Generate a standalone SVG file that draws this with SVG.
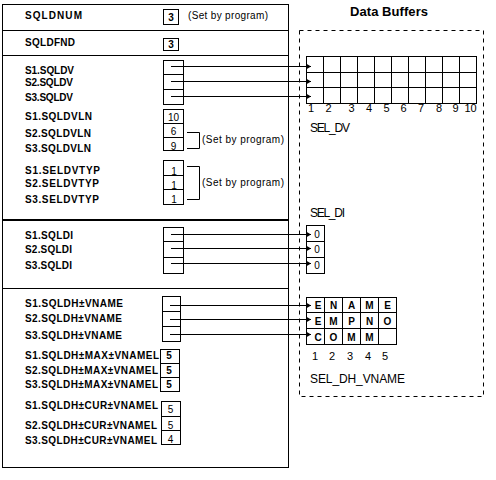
<svg xmlns="http://www.w3.org/2000/svg" width="496" height="480" viewBox="0 0 496 480">
<style>
.ln{stroke:#000;stroke-width:1;fill:none}
.lbl{font-family:"Liberation Sans",Arial,sans-serif;font-weight:bold;font-size:10px;fill:#000}
.val{font-family:"Liberation Sans",Arial,sans-serif;font-size:10px;fill:#000;text-anchor:middle}
.valb{font-family:"Liberation Sans",Arial,sans-serif;font-size:10px;font-weight:bold;fill:#000;text-anchor:middle}
.note{font-family:"Liberation Sans",Arial,sans-serif;font-size:10px;fill:#000}
.name{font-family:"Liberation Sans",Arial,sans-serif;font-size:12px;fill:#000}
.num{font-family:"Liberation Sans",Arial,sans-serif;font-size:11px;fill:#000;text-anchor:middle}
.title{font-family:"Liberation Sans",Arial,sans-serif;font-size:13px;font-weight:bold;fill:#000}
</style>
<defs>
<marker id="ah" markerUnits="userSpaceOnUse" markerWidth="5" markerHeight="6" refX="5" refY="3" orient="auto">
<path d="M0,0 L5,3 L0,6 z" fill="#000"/>
</marker>
</defs>

<g id="sqlda">
<rect class="ln" x="2.5" y="4.5" width="286" height="463"/>
<line class="ln" x1="2" y1="30.5" x2="289" y2="30.5"/>
<line class="ln" x1="2" y1="55.5" x2="289" y2="55.5"/>
<line stroke="#000" stroke-width="2" x1="2" y1="220" x2="289" y2="220"/>
<line class="ln" x1="2" y1="288.5" x2="289" y2="288.5"/>
</g>

<g id="sqldnum">
<text class="lbl" x="25" y="18.5" textLength="57" lengthAdjust="spacing">SQLDNUM</text>
<rect class="ln" x="163.5" y="9.5" width="15" height="15"/>
<text class="valb" x="171" y="20.5">3</text>
<text class="note" x="188" y="19" textLength="80" lengthAdjust="spacing">(Set by program)</text>
</g>

<g id="sqldfnd">
<text class="lbl" x="25" y="46" textLength="50" lengthAdjust="spacing">SQLDFND</text>
<rect class="ln" x="163.5" y="38.5" width="15" height="12"/>
<text class="valb" x="171" y="48">3</text>
</g>

<g id="sqldv">
<text class="lbl" x="25" y="73.5" textLength="49" lengthAdjust="spacing">S1.SQLDV</text>
<text class="lbl" x="25" y="85.5" textLength="48" lengthAdjust="spacing">S2.SQLDV</text>
<text class="lbl" x="25" y="100.5" textLength="48" lengthAdjust="spacing">S3.SQLDV</text>
<rect class="ln" x="163.5" y="60.5" width="20" height="44"/>
<line class="ln" x1="163.5" y1="74.5" x2="183.5" y2="74.5"/>
<line class="ln" x1="163.5" y1="89.5" x2="183.5" y2="89.5"/>
</g>

<g id="sqldvln">
<text class="lbl" x="25" y="120" textLength="67" lengthAdjust="spacing">S1.SQLDVLN</text>
<text class="lbl" x="25" y="136.5" textLength="66" lengthAdjust="spacing">S2.SQLDVLN</text>
<text class="lbl" x="25" y="151.5" textLength="66" lengthAdjust="spacing">S3.SQLDVLN</text>
<rect class="ln" x="163.5" y="109.5" width="20" height="41"/>
<line class="ln" x1="163.5" y1="123.5" x2="183.5" y2="123.5"/>
<line class="ln" x1="163.5" y1="137.5" x2="183.5" y2="137.5"/>
<text class="val" x="173.5" y="120.5">10</text>
<text class="val" x="173.5" y="135">6</text>
<text class="val" x="173.5" y="149.5">9</text>
<path class="ln" d="M187,132.5 H199.5 V148.5 H187"/>
<text class="note" x="202" y="142.5" textLength="82" lengthAdjust="spacing">(Set by program)</text>
</g>

<g id="seldvtyp">
<text class="lbl" x="25" y="173.5" textLength="75" lengthAdjust="spacing">S1.SELDVTYP</text>
<text class="lbl" x="25" y="186.5" textLength="74" lengthAdjust="spacing">S2.SELDVTYP</text>
<text class="lbl" x="25" y="202.5" textLength="74" lengthAdjust="spacing">S3.SELDVTYP</text>
<rect class="ln" x="163.5" y="160.5" width="20" height="44"/>
<line class="ln" x1="163.5" y1="175.5" x2="183.5" y2="175.5"/>
<line class="ln" x1="163.5" y1="189.5" x2="183.5" y2="189.5"/>
<text class="val" x="174" y="174.5">1</text>
<text class="val" x="174" y="189">1</text>
<text class="val" x="174" y="203">1</text>
<path class="ln" d="M187,166.5 H199.5 V199.5 H187"/>
<text class="note" x="202" y="185.5" textLength="82" lengthAdjust="spacing">(Set by program)</text>
</g>

<g id="sqldi">
<text class="lbl" x="25" y="239" textLength="48" lengthAdjust="spacing">S1.SQLDI</text>
<text class="lbl" x="25" y="252.5" textLength="47" lengthAdjust="spacing">S2.SQLDI</text>
<text class="lbl" x="25" y="268.5" textLength="47" lengthAdjust="spacing">S3.SQLDI</text>
<rect class="ln" x="163.5" y="227.5" width="20" height="46"/>
<line class="ln" x1="163.5" y1="241.5" x2="183.5" y2="241.5"/>
<line class="ln" x1="163.5" y1="257.5" x2="183.5" y2="257.5"/>
</g>

<g id="sqldh_vname">
<text class="lbl" x="25" y="306.5" textLength="98" lengthAdjust="spacing">S1.SQLDH±VNAME</text>
<text class="lbl" x="25" y="321.5" textLength="97" lengthAdjust="spacing">S2.SQLDH±VNAME</text>
<text class="lbl" x="25" y="338.5" textLength="97" lengthAdjust="spacing">S3.SQLDH±VNAME</text>
<rect class="ln" x="162.5" y="296.5" width="18" height="45"/>
<line class="ln" x1="162.5" y1="311.5" x2="180.5" y2="311.5"/>
<line class="ln" x1="162.5" y1="326.5" x2="180.5" y2="326.5"/>
</g>

<g id="sqldh_max_vnamel">
<text class="lbl" x="25" y="358.5" textLength="134" lengthAdjust="spacing">S1.SQLDH±MAX±VNAMEL</text>
<text class="lbl" x="25" y="373.5" textLength="133" lengthAdjust="spacing">S2.SQLDH±MAX±VNAMEL</text>
<text class="lbl" x="25" y="387.5" textLength="133" lengthAdjust="spacing">S3.SQLDH±MAX±VNAMEL</text>
<rect class="ln" x="160.5" y="349.5" width="19" height="42"/>
<line class="ln" x1="160.5" y1="363.5" x2="179.5" y2="363.5"/>
<line class="ln" x1="160.5" y1="377.5" x2="179.5" y2="377.5"/>
<text class="valb" x="169" y="359">5</text>
<text class="valb" x="169" y="373.5">5</text>
<text class="valb" x="169" y="387.5">5</text>
</g>

<g id="sqldh_cur_vnamel">
<text class="lbl" x="25" y="408.5" textLength="133" lengthAdjust="spacing">S1.SQLDH±CUR±VNAMEL</text>
<text class="lbl" x="25" y="428.5" textLength="132" lengthAdjust="spacing">S2.SQLDH±CUR±VNAMEL</text>
<text class="lbl" x="25" y="443.5" textLength="132" lengthAdjust="spacing">S3.SQLDH±CUR±VNAMEL</text>
<rect class="ln" x="161.5" y="401.5" width="19" height="43"/>
<line class="ln" x1="161.5" y1="416.5" x2="180.5" y2="416.5"/>
<line class="ln" x1="161.5" y1="430.5" x2="180.5" y2="430.5"/>
<text class="val" x="170.5" y="412.5">5</text>
<text class="val" x="170.5" y="428.5">5</text>
<text class="val" x="170.5" y="443">4</text>
</g>

<g id="data_buffers">
<text class="title" x="350" y="16" textLength="78" lengthAdjust="spacing">Data Buffers</text>
<rect class="ln" x="299.5" y="30.5" width="184" height="366" stroke-dasharray="4,4"/>
</g>

<g id="sel_dv">
<rect class="ln" x="306.5" y="56.5" width="170" height="47"/>
<path class="ln" d="M306.5,72.5 H476.5 M306.5,87.5 H476.5 M323.5,56.5 V103.5 M340.5,56.5 V103.5 M357.5,56.5 V103.5 M374.5,56.5 V103.5 M391.5,56.5 V103.5 M408.5,56.5 V103.5 M425.5,56.5 V103.5 M442.5,56.5 V103.5 M459.5,56.5 V103.5"/>
<text class="num" x="311" y="112">1</text>
<text class="num" x="328.5" y="112">2</text>
<text class="num" x="351.5" y="112">3</text>
<text class="num" x="369" y="112">4</text>
<text class="num" x="386.5" y="112">5</text>
<text class="num" x="403.5" y="112">6</text>
<text class="num" x="421" y="112">7</text>
<text class="num" x="439" y="112">8</text>
<text class="num" x="455.5" y="112">9</text>
<text class="num" x="470.5" y="112">10</text>
<text class="name" x="310" y="132" textLength="40" lengthAdjust="spacing">SEL_DV</text>
</g>

<g id="sel_di">
<text class="name" x="310" y="216.5" textLength="35" lengthAdjust="spacing">SEL_DI</text>
<rect class="ln" x="306.5" y="225.5" width="18" height="48"/>
<line class="ln" x1="306.5" y1="241.5" x2="324.5" y2="241.5"/>
<line class="ln" x1="306.5" y1="257.5" x2="324.5" y2="257.5"/>
<text class="val" x="317" y="237.5">0</text>
<text class="val" x="317" y="253">0</text>
<text class="val" x="317" y="268.5">0</text>
</g>

<g id="sel_dh_vname">
<rect class="ln" x="306.5" y="297.5" width="90" height="47"/>
<path class="ln" d="M306.5,312.5 H396.5 M306.5,328.5 H396.5 M324.5,297.5 V344.5 M342.5,297.5 V344.5 M360.5,297.5 V344.5 M378.5,297.5 V344.5"/>
<text class="valb" x="318" y="309">E</text>
<text class="valb" x="333.5" y="309">N</text>
<text class="valb" x="351.5" y="309">A</text>
<text class="valb" x="369.5" y="309">M</text>
<text class="valb" x="387.5" y="309">E</text>
<text class="valb" x="318" y="324.5">E</text>
<text class="valb" x="333.5" y="324.5">M</text>
<text class="valb" x="351.5" y="324.5">P</text>
<text class="valb" x="369.5" y="324.5">N</text>
<text class="valb" x="387.5" y="324.5">O</text>
<text class="valb" x="318" y="340.5">C</text>
<text class="valb" x="333.5" y="340.5">O</text>
<text class="valb" x="351.5" y="340.5">M</text>
<text class="valb" x="369.5" y="340.5">M</text>
<text class="num" x="315" y="360">1</text>
<text class="num" x="332" y="360">2</text>
<text class="num" x="350" y="360">3</text>
<text class="num" x="368" y="360">4</text>
<text class="num" x="385" y="360">5</text>
<text class="name" x="310" y="383" textLength="95" lengthAdjust="spacing">SEL_DH_VNAME</text>
</g>

<g id="connectors" class="ln" marker-end="url(#ah)">
<line x1="171" y1="66.5" x2="311" y2="66.5"/>
<line x1="171" y1="81.5" x2="311" y2="81.5"/>
<line x1="171" y1="96.5" x2="311" y2="96.5"/>
<line x1="171" y1="234.5" x2="311" y2="234.5"/>
<line x1="171" y1="248.5" x2="311" y2="248.5"/>
<line x1="171" y1="263.5" x2="311" y2="263.5"/>
<line x1="170" y1="305.5" x2="311" y2="305.5"/>
<line x1="170" y1="319.5" x2="311" y2="319.5"/>
<line x1="170" y1="334.5" x2="311" y2="334.5"/>
</g>
</svg>
